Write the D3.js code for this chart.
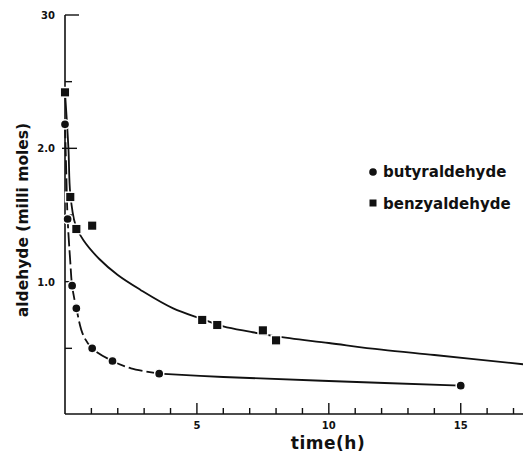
<!DOCTYPE html>
<html><head><meta charset="utf-8">
<script src="https://cdn.jsdelivr.net/npm/d3@7"></script>
<style>
body{margin:0;background:#fff;}
text{font-family:"DejaVu Sans","Liberation Sans",sans-serif;font-weight:bold;fill:#111;}
</style></head><body>
<svg id="c" width="523" height="452"></svg>
<script>
// measured points
const butyrX = [0, 0.1, 0.27, 0.43, 1.03, 1.8, 3.57, 15];
const butyrY = [2.18, 1.47, 0.97, 0.80, 0.50, 0.405, 0.31, 0.22];
const benzX = [0, 0.2, 0.43, 1.03, 5.2, 5.77, 7.5, 8.0];
const benzY = [2.42, 1.635, 1.395, 1.42, 0.713, 0.675, 0.635, 0.56];
// fitted curves (hand drawn)
const butyrCurveX = [0, 0.05, 0.1, 0.2, 0.27, 0.43, 0.69, 1.03, 1.8, 2.5, 3.57, 6, 10, 15];
const butyrCurveY = [2.18, 1.8, 1.47, 1.15, 0.97, 0.80, 0.60, 0.50, 0.405, 0.35, 0.31, 0.285, 0.255, 0.22];
const benzCurveX = [0, 0.13, 0.2, 0.39, 0.7, 1.3, 2, 2.85, 4.1, 5.2, 6, 7, 8, 10, 12, 14, 17.4];
const benzCurveY = [2.42, 2.0, 1.66, 1.43, 1.31, 1.17, 1.05, 0.94, 0.80, 0.72, 0.665, 0.625, 0.59, 0.54, 0.49, 0.45, 0.38];
const xTickLabels = ["5", "10", "15"];
const xTickValues = [5, 10, 15];
const yTickLabels = ["1.0", "2.0", "30"];
const yTickValues = [1, 2, 3];
const seriesNames = ["butyraldehyde", "benzyaldehyde"];

const svg = d3.select("#c");
const x = d3.scaleLinear().domain([0, 17.36]).range([65, 523]);
const y = d3.scaleLinear().domain([0, 3]).range([415, 15]);

const ink = "#111";
// axes
svg.append("line").attr("x1", x(0)).attr("x2", 523).attr("y1", y(0)-1).attr("y2", y(0)-1)
  .attr("stroke", ink).attr("stroke-width", 1.6);
svg.append("line").attr("x1", x(0)).attr("x2", x(0)).attr("y1", y(3)).attr("y2", y(0)-1)
  .attr("stroke", ink).attr("stroke-width", 1.6);

// x ticks
const xt = d3.range(1, 18);
svg.selectAll(".xt").data(xt).join("line")
  .attr("x1", d => x(d)).attr("x2", d => x(d))
  .attr("y1", y(0)-1).attr("y2", d => y(0)-1 - (d % 5 === 0 ? 11 : 6))
  .attr("stroke", ink).attr("stroke-width", 1.4);
svg.selectAll(".xl").data(xTickValues).join("text")
  .attr("x", d => x(d)).attr("y", 429).attr("text-anchor", "middle")
  .attr("font-size", 10).text((d, i) => xTickLabels[i]);

// y ticks
const yt = [0.5, 1, 1.5, 2, 2.5, 3];
svg.selectAll(".yt").data(yt).join("line")
  .attr("x1", d => x(0) - (d === 2 ? 3 : 0)).attr("x2", d => x(0) + (d === 3 ? 14 : d === 2 ? 12 : 7))
  .attr("y1", d => y(d)).attr("y2", d => y(d))
  .attr("stroke", ink).attr("stroke-width", 1.4);
svg.selectAll(".yl").data(yTickValues).join("text")
  .attr("x", 55).attr("y", d => y(d) + 4).attr("text-anchor", "end")
  .attr("font-size", 10).text((d, i) => yTickLabels[i]);

// axis titles
svg.append("text").attr("x", 328).attr("y", 449).attr("text-anchor", "middle")
  .attr("font-size", 17).attr("letter-spacing", 0.5).text("time(h)");
svg.append("text").attr("transform", "translate(28,220) rotate(-90)").attr("text-anchor", "middle")
  .attr("font-size", 15.5).text("aldehyde (milli moles)");

// curves
const line = d3.line().x(d => x(d[0])).y(d => y(d[1])).curve(d3.curveCatmullRom.alpha(0.5));
const bc = butyrCurveX.map((v, i) => [v, butyrCurveY[i]]);
const zc = benzCurveX.map((v, i) => [v, benzCurveY[i]]);
svg.append("path").attr("d", line(bc.filter(d => d[0] <= 3.57)))
  .attr("fill", "none").attr("stroke", ink).attr("stroke-width", 1.8).attr("stroke-dasharray", "14,4");
svg.append("path").attr("d", line(bc.filter(d => d[0] >= 3.57)))
  .attr("fill", "none").attr("stroke", ink).attr("stroke-width", 1.8);
svg.append("path").attr("d", line(zc))
  .attr("fill", "none").attr("stroke", ink).attr("stroke-width", 1.8);

// markers
const bp = butyrX.map((v, i) => [v, butyrY[i]]);
const zp = benzX.map((v, i) => [v, benzY[i]]);
svg.selectAll(".bm").data(bp).join("circle")
  .attr("cx", d => x(d[0])).attr("cy", d => y(d[1])).attr("r", 4.6)
  .attr("fill", ink).attr("stroke", "#fff").attr("stroke-width", 1.5);
svg.selectAll(".zm").data(zp).join("rect")
  .attr("x", d => x(d[0]) - 4.8).attr("y", d => y(d[1]) - 4.8).attr("width", 9.6).attr("height", 9.6)
  .attr("fill", ink).attr("stroke", "#fff").attr("stroke-width", 1.5);

// legend
svg.append("circle").attr("cx", 373).attr("cy", 172).attr("r", 3.8).attr("fill", ink);
svg.append("text").attr("x", 383).attr("y", 177).attr("font-size", 15).text(seriesNames[0]);
svg.append("rect").attr("x", 369.5).attr("y", 199.5).attr("width", 7).attr("height", 7).attr("fill", ink);
svg.append("text").attr("x", 383).attr("y", 209).attr("font-size", 15).text(seriesNames[1]);
</script>
</body></html>
